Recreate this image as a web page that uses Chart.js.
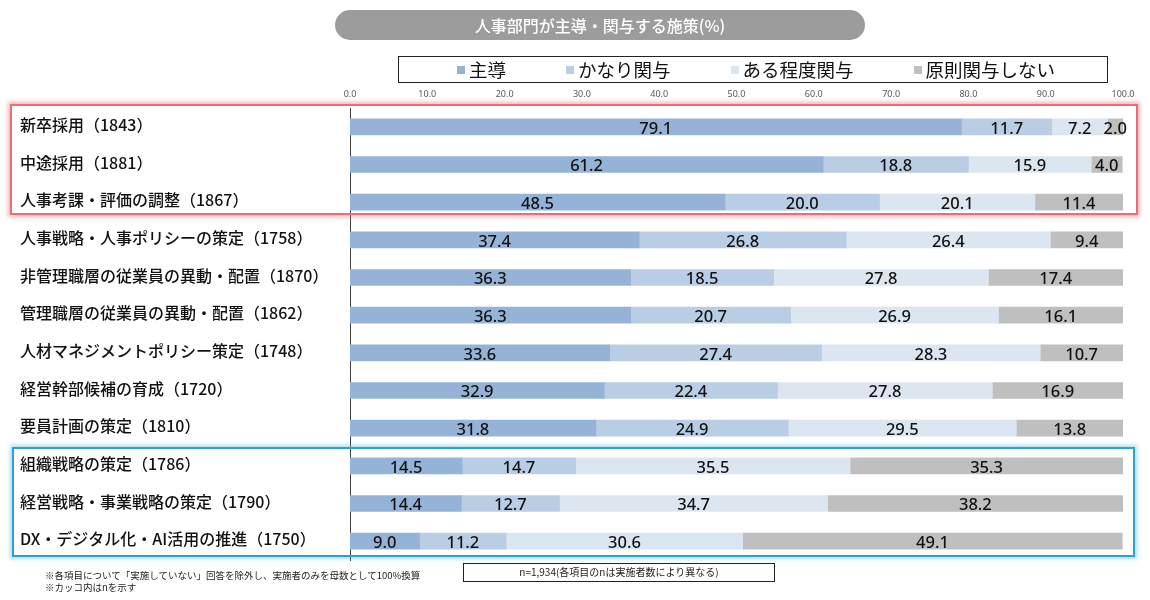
<!DOCTYPE html>
<html>
<head>
<meta charset="utf-8">
<script src="https://cdn.jsdelivr.net/npm/chart.js@4.4.0/dist/chart.umd.min.js"></script>
<style>
  html, body { margin: 0; padding: 0; background: #fff; }
  #wrap { position: relative; width: 1150px; height: 600px; font-family: "Noto Sans CJK JP", "Noto Sans", sans-serif; }
  #chart { position: absolute; left: 0; top: 0; }
  .title {
    position: absolute; left: 335px; top: 10px; width: 530px; height: 30px;
    background: #9c9c9c; border-radius: 15px; color: #fff;
    font-size: 16px; font-weight: 500; line-height: 30px; text-align: center;
  }
  #legend {
    position: absolute; left: 398px; top: 56px; width: 710px; height: 27px;
    border: 1px solid #222; display: flex; align-items: center; padding-left: 58px;
    box-sizing: border-box; font-size: 18.5px; color: #111; white-space: nowrap; overflow: hidden;
  }
  #legend span.item { display: flex; align-items: center; flex-shrink: 0; margin-right: 60px; line-height: 1; }
  #legend i { display: inline-block; width: 8px; height: 8px; margin-right: 4px; flex-shrink: 0; }
  .box { position: absolute; box-sizing: border-box; pointer-events: none; }
  .red { left: 10px; top: 104px; width: 1128px; height: 111px; border: 2px solid #e5707a; box-shadow: 0 0 4px 2px rgba(235,120,130,0.55); }
  .blue { left: 12px; top: 447px; width: 1123px; height: 110px; border: 2px solid #2aa3d0; box-shadow: 0 0 4px 2px rgba(80,180,220,0.45); }
  .note { position: absolute; left: 45px; top: 569px; font-size: 9.5px; line-height: 12px; color: #222; }
  .nbox {
    position: absolute; left: 463px; top: 563px; width: 312px; height: 19px; box-sizing: border-box;
    border: 1.5px solid #222; font-size: 10px; line-height: 16px; text-align: center; color: #222;
  }
</style>
</head>
<body>
<div id="wrap">
  <canvas id="chart" width="1150" height="600"></canvas>
  <div class="title">人事部門が主導・関与する施策(%)</div>
  <div id="legend"></div>
  <div class="box red"></div>
  <div class="box blue"></div>
  <div class="note">※各項目について「実施していない」回答を除外し、実施者のみを母数として100%換算<br>※カッコ内はnを示す</div>
  <div class="nbox">n=1,934(各項目のnは実施者数により異なる)</div>
</div>
<script>
// 施策 (カッコ内はn)
const categories = [
  "新卒採用（1843）",
  "中途採用（1881）",
  "人事考課・評価の調整（1867）",
  "人事戦略・人事ポリシーの策定（1758）",
  "非管理職層の従業員の異動・配置（1870）",
  "管理職層の従業員の異動・配置（1862）",
  "人材マネジメントポリシー策定（1748）",
  "経営幹部候補の育成（1720）",
  "要員計画の策定（1810）",
  "組織戦略の策定（1786）",
  "経営戦略・事業戦略の策定（1790）",
  "DX・デジタル化・AI活用の推進（1750）",
];

const seriesNames = ["主導", "かなり関与", "ある程度関与", "原則関与しない"];
const seriesColors = ["#95b3d7", "#b9cde5", "#dce6f1", "#bfbfbf"];

const shudo = [79.1, 61.2, 48.5, 37.4, 36.3, 36.3, 33.6, 32.9, 31.8, 14.5, 14.4, 9.0];
const kanari = [11.7, 18.8, 20.0, 26.8, 18.5, 20.7, 27.4, 22.4, 24.9, 14.7, 12.7, 11.2];
const aruteido = [7.2, 15.9, 20.1, 26.4, 27.8, 26.9, 28.3, 27.8, 29.5, 35.5, 34.7, 30.6];
const gensoku = [2.0, 4.0, 11.4, 9.4, 17.4, 16.1, 10.7, 16.9, 13.8, 35.3, 38.2, 49.1];

const xTicks = [0, 10, 20, 30, 40, 50, 60, 70, 80, 90, 100];

const values = [shudo, kanari, aruteido, gensoku];

// legend (html)
const legendEl = document.getElementById("legend");
seriesNames.forEach((name, i) => {
  const s = document.createElement("span");
  s.className = "item";
  s.innerHTML = '<i style="background:' + seriesColors[i] + '"></i>' + name;
  legendEl.appendChild(s);
});

// 値ラベル
const valueLabels = {
  id: "valueLabels",
  afterDatasetsDraw(chart) {
    const ctx = chart.ctx;
    ctx.save();
    ctx.font = '500 16.5px "Noto Sans", sans-serif';
    ctx.fillStyle = "#111";
    ctx.textAlign = "center";
    ctx.textBaseline = "middle";
    chart.data.datasets.forEach((ds, di) => {
      const meta = chart.getDatasetMeta(di);
      meta.data.forEach((bar, i) => {
        const cx = (bar.x + bar.base) / 2;
        ctx.fillText(ds.data[i].toFixed(1), cx, bar.y + 2);
      });
    });
    ctx.restore();
  },
};

new Chart(document.getElementById("chart"), {
  type: "bar",
  data: {
    labels: categories,
    datasets: values.map((v, i) => ({
      label: seriesNames[i],
      data: v,
      backgroundColor: seriesColors[i],
      borderWidth: 0,
      barThickness: 16,
    })),
  },
  options: {
    indexAxis: "y",
    responsive: false,
    animation: false,
    layout: { padding: { left: 20, right: 27, top: 84, bottom: 40 } },
    plugins: { legend: { display: false }, tooltip: { enabled: false } },
    scales: {
      x: {
        position: "top",
        stacked: true,
        min: 0,
        max: 100,
        afterFit: (scale) => { scale.height = 24; },
        afterBuildTicks: (scale) => { scale.ticks = xTicks.map((v) => ({ value: v })); },
        grid: { display: false },
        border: { display: false },
        ticks: {
          padding: 0,
          color: "#595959",
          font: { size: 9, family: '"Noto Sans", sans-serif' },
          callback: (v) => Number(v).toFixed(1),
          maxRotation: 0,
        },
      },
      y: {
        stacked: true,
        afterFit: (scale) => { scale.width = 330; },
        grid: { display: true, drawOnChartArea: false, drawTicks: false },
        border: { display: true, color: "#404040", width: 1 },
        ticks: {
          crossAlign: "far",
          labelOffset: -2,
          color: "#111",
          font: { size: 16, weight: 500, family: '"Noto Sans CJK JP", sans-serif' },
        },
      },
    },
  },
  plugins: [valueLabels],
});
</script>
</body>
</html>
